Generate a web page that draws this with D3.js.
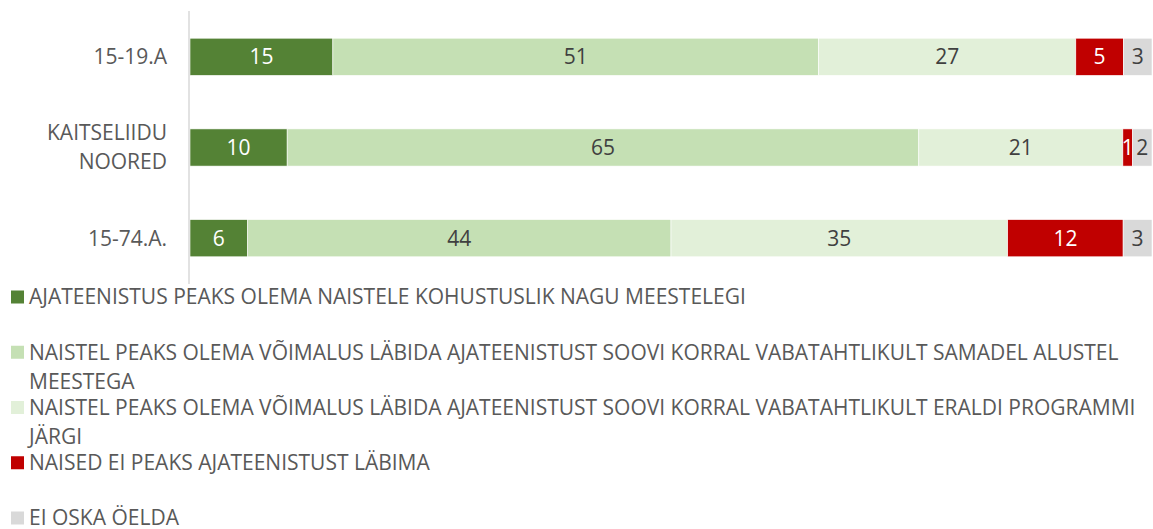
<!DOCTYPE html>
<html>
<head>
<meta charset="utf-8">
<script src="https://cdn.jsdelivr.net/npm/d3@7"></script>
<style>
  html, body { margin: 0; padding: 0; background: #fff; }
  svg { display: block; }
  text { font-family: "Open Sans", sans-serif; }
</style>
</head>
<body>
<svg id="chart" width="1153" height="529"></svg>
<script>
const categories = ["15-19.A", "KAITSELIIDU NOORED", "15-74.A."];
const categoryLines = [["15-19.A"], ["KAITSELIIDU", "NOORED"], ["15-74.A."]];
const seriesNames = [
  "AJATEENISTUS PEAKS OLEMA NAISTELE KOHUSTUSLIK NAGU MEESTELEGI",
  "NAISTEL PEAKS OLEMA VÕIMALUS LÄBIDA AJATEENISTUST SOOVI KORRAL VABATAHTLIKULT SAMADEL ALUSTEL MEESTEGA",
  "NAISTEL PEAKS OLEMA VÕIMALUS LÄBIDA AJATEENISTUST SOOVI KORRAL VABATAHTLIKULT ERALDI PROGRAMMI JÄRGI",
  "NAISED EI PEAKS AJATEENISTUST LÄBIMA",
  "EI OSKA ÖELDA"
];
const seriesColors = ["#548235", "#C5E0B4", "#E2F0D9", "#C00000", "#D9D9D9"];
const labelColors = ["#FFFFFF", "#404040", "#404040", "#FFFFFF", "#404040"];
// values per series, in category order
const compulsory   = [15, 10, 6];
const sameTerms    = [51, 65, 44];
const separateProg = [27, 21, 35];
const shouldNot    = [5, 1, 12];
const dontKnow     = [3, 2, 3];
const seriesValues = [compulsory, sameTerms, separateProg, shouldNot, dontKnow];

const svg = d3.select("#chart");
const FS = "21px";

const x = d3.scaleLinear().domain([0, 1]).range([190, 1152]);
const y = d3.scaleBand().domain(categories).range([11, 284]).paddingInner(0.59).paddingOuter(0.3);

// build normalized stacks (100% stacked)
const rows = categories.map((c, ci) => {
  const vals = seriesValues.map(s => s[ci]);
  const total = d3.sum(vals);
  let acc = 0;
  return vals.map((v, si) => {
    const seg = { cat: c, si, v, x0: acc / total, x1: (acc + v) / total };
    acc += v;
    return seg;
  });
});
const segs = rows.flat();

// bars
svg.append("g").selectAll("rect").data(segs).join("rect")
  .attr("x", d => x(d.x0))
  .attr("y", d => y(d.cat))
  .attr("width", d => x(d.x1) - x(d.x0))
  .attr("height", y.bandwidth())
  .attr("fill", d => seriesColors[d.si])
  .attr("stroke", "#fff")
  .attr("stroke-width", 0.6);

// axis line
const yAxis = d3.axisLeft(y).tickSize(0).tickFormat("");
const ag = svg.append("g").attr("transform", "translate(189,0)").call(yAxis);
ag.select(".domain").attr("d", "M0,11V284").attr("stroke", "#D9D9D9").attr("stroke-width", 1.5);

// category labels
const cl = svg.append("g").selectAll("text").data(categories).join("text")
  .attr("text-anchor", "end")
  .attr("fill", "#595959")
  .style("font-size", FS);
cl.each(function(c, i) {
  const lines = categoryLines[i];
  const cy = y(c) + y.bandwidth() / 2;
  const lh = 29;
  const t = d3.select(this);
  lines.forEach((ln, li) => {
    t.append("tspan")
      .attr("x", 167)
      .attr("y", cy + (li - (lines.length - 1) / 2) * lh)
      .attr("dy", "0.35em")
      .text(ln);
  });
});

// data labels
svg.append("g").selectAll("text").data(segs).join("text")
  .attr("x", d => (x(d.x0) + x(d.x1)) / 2)
  .attr("y", d => y(d.cat) + y.bandwidth() / 2)
  .attr("dy", "0.35em")
  .attr("text-anchor", "middle")
  .attr("fill", d => labelColors[d.si])
  .style("font-size", FS)
  .text(d => d.v);

// legend
const legendX = 11, textX = 29, maxW = 1150;
const itemStep = 55.25, lineH = 29, firstY = 297;
const lg = svg.append("g");
seriesNames.forEach((name, i) => {
  const cy = firstY + i * itemStep;
  lg.append("rect").attr("x", legendX).attr("y", cy - 6.5).attr("width", 13).attr("height", 13)
    .attr("fill", seriesColors[i]);
  const t = lg.append("text").attr("fill", "#595959").style("font-size", FS);
  const words = name.split(" ");
  let line = [], li = 0;
  let ts = t.append("tspan").attr("x", textX).attr("y", cy).attr("dy", "0.35em");
  words.forEach(w => {
    line.push(w);
    ts.text(line.join(" "));
    if (ts.node().getComputedTextLength() > maxW - textX && line.length > 1) {
      line.pop();
      ts.text(line.join(" "));
      line = [w];
      li++;
      ts = t.append("tspan").attr("x", textX).attr("y", cy + li * lineH).attr("dy", "0.35em").text(w);
    }
  });
});
</script>
</body>
</html>
